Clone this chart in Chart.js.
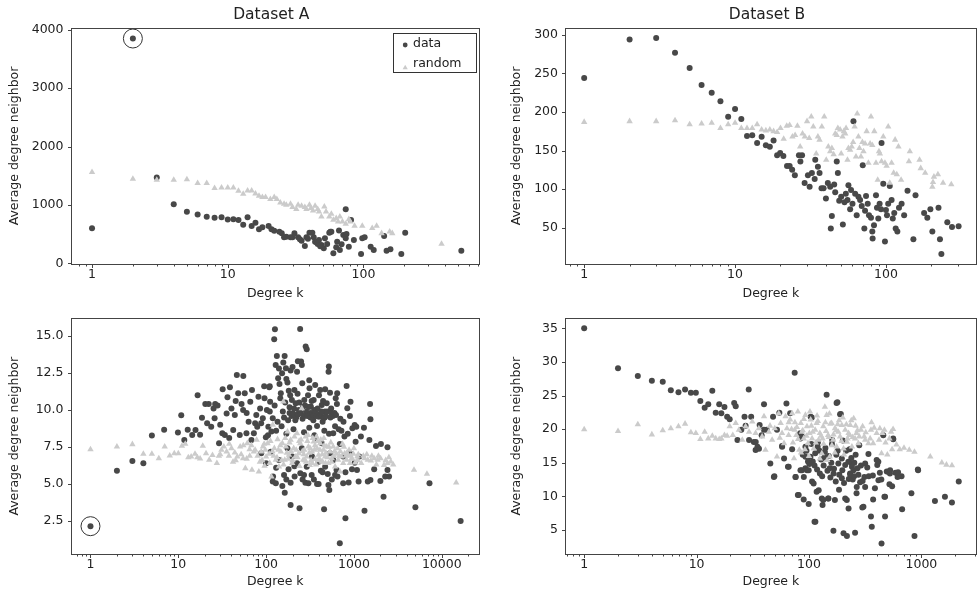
<!DOCTYPE html>
<html>
<head>
<meta charset="utf-8">
<script src="https://cdn.jsdelivr.net/npm/chart.js@4.4.1/dist/chart.umd.min.js"></script>
<style>
  html, body { margin: 0; padding: 0; background: #fff; overflow: hidden; }
  #wrap { position: relative; width: 980px; height: 594px; }
  canvas { position: absolute; }
</style>
</head>
<body>
<div id="wrap">
  <canvas id="cA" width="490" height="306" style="left:0px;top:0px"></canvas>
  <canvas id="cB" width="478" height="306" style="left:502px;top:0px"></canvas>
  <canvas id="cC" width="490" height="297" style="left:0px;top:297px"></canvas>
  <canvas id="cD" width="478" height="297" style="left:502px;top:297px"></canvas>
</div>
<script>
// [degree k, average degree neighbor]
const aData = [[1,600],[2,3850],[3,1470],[4,1010],[5,884],[6,835],[7,799],[8,782],[9,788],[10,752],[11,754],[12,742],[13,662],[14,788],[15,639],[16,696],[17,583],[18,617],[20,639],[21,583],[22,559],[24,542],[25,514],[26,446],[27,456],[29,446],[30,446],[31,514],[33,446],[34,411],[35,387],[37,297],[38,446],[39,420],[40,525],[42,525],[43,446],[44,370],[45,360],[46,331],[47,400],[48,290],[49,314],[51,257],[52,429],[54,331],[56,525],[57,540],[58,542],[60,171],[63,274],[64,370],[66,560],[67,228],[69,326],[71,485],[74,926],[74,429],[75,500],[78,285],[81,742],[85,400],[96,160],[98,429],[102,446],[113,285],[119,228],[142,468],[148,216],[158,240],[190,160],[203,525],[526,216]];
const aRandom = [[1,1560],[2,1445],[3,1428],[4,1428],[5,1435],[6,1371],[7,1371],[8,1286],[9,1296],[10,1296],[11,1296],[12,1239],[13,1188],[14,1244],[15,1244],[16,1193],[17,1154],[18,1131],[19,1131],[20.6,1097],[22,1131],[23,1097],[24.4,1039],[26,1016],[27,1000],[29,1016],[30,960],[32,926],[33,1000],[35,982],[37,960],[38,926],[40,1000],[41,943],[42.5,902],[44,982],[46,926],[47,884],[49,799],[51.5,970],[53,884],[56,799],[58,845],[60,742],[63,771],[65,713],[67,799],[70,713],[74,674],[78,754],[80,713],[86,639],[98,639],[116,600],[125,639],[136,514],[156,542],[163,514],[376,331]];
const aMarked = [[2,3850]];

const bData = [[1,244],[2,294],[3,296],[4,277],[5,257],[6,235],[7,225],[8,214],[9,194],[10,204],[11,191],[12,169],[13,170],[14,160],[15,168],[16,157],[17,155],[18,163],[19,144],[19.9,147],[20.9,143],[22.1,130],[23,130],[23.9,125],[24.9,118],[26.5,144],[27.8,144],[27.1,136],[28.9,108],[30.4,118],[31.2,103],[32.3,121],[33.7,113],[34,138],[35.4,129],[36.3,121],[37.4,101],[38.6,101],[40,88],[41.2,108],[42.7,103],[43.8,65],[43.1,49],[45.4,106],[46.1,96],[47.2,136],[48,121],[49,85],[50.5,90],[51.8,54],[53.1,83],[54.2,94],[55.6,86],[56.4,105],[57.9,74],[58.7,99],[60.9,188],[60,81],[62.5,94],[64,66],[65.7,90],[67.4,86],[69.1,78],[70.2,131],[71.9,49],[72.7,72],[73.8,91],[75.7,81],[77.2,66],[79.6,63],[81.2,45],[81.6,36],[83.3,53],[85.9,92],[87.2,76],[89,62],[90.8,81],[92.7,74],[93.5,160],[96,107],[98.5,32],[100,73],[101.6,66],[103.5,81],[106,104],[109,86],[111,62],[113.5,69],[116,49],[119,45],[122,76],[127,81],[132,66],[139,98],[152,35],[157,92],[179,69],[188,63],[197,74],[203,45],[223,76],[228,35],[233,16],[255,57],[274,51],[303,52]];
const bRandom = [[1,187],[2,188],[3,188],[4,189],[5,184],[6,185],[7,186],[8,179],[9,184],[10,186],[11,179],[12,179],[13,179],[14,184],[15,177],[16,176],[17,177],[18,175],[19,174],[20,179],[21,165],[22,182],[23,183],[24,168],[25,170],[25.9,182],[27,155],[28,172],[29,168],[30,188],[31,166],[32,194],[33,181],[34.5,146],[35.4,168],[36.3,164],[37.6,181],[39,194],[40.2,138],[41.5,155],[42.7,149],[43.8,153],[45,145],[46.1,172],[47.2,170],[48,179],[49.7,177],[50.5,146],[51.5,168],[52.6,175],[53.7,172],[54.4,179],[55.6,138],[56.4,153],[57.9,151],[59.3,155],[60.6,161],[62,181],[63.3,142],[64.5,198],[65.7,168],[66.7,153],[68.3,142],[69.8,161],[71,149],[72.7,159],[74.5,175],[76.5,134],[78.5,159],[79.6,194],[81.2,157],[83.7,175],[85.9,134],[88.2,112],[89.9,149],[91.2,146],[93.5,136],[96,168],[98.5,134],[101,130],[103.5,181],[106,108],[109,134],[112.5,121],[115,164],[118,119],[121,155],[126,112],[142,136],[144,149],[167,138],[170,127],[182,121],[203,103],[205,109],[208,116],[221,119],[239,108],[271,106]];

const cData = [[1,2.15],[2,5.9],[3,6.55],[4,6.4],[5,8.27],[6.9,8.67],[9.9,8.47],[10.8,9.64],[11.7,7.97],[12.8,8.67],[14.4,8.31],[15.7,8.65],[16.6,11.0],[17.7,8.33],[18.6,9.48],[20.3,10.4],[21.3,9.1],[22.2,10.4],[23.7,8.87],[25.2,10.1],[25.9,9.44],[26.3,10.4],[28,10.3],[29.1,7.75],[30,9.0],[31.7,8.42],[32,11.4],[33.9,8.31],[35.5,9.77],[36.3,10.86],[38,8.1],[38.7,11.53],[40.3,10.1],[42.2,8.65],[44,9.66],[45,10.6],[46.4,12.36],[48.1,11.13],[50.1,8.31],[52.5,10.4],[54.7,10.0],[55,12.3],[57.1,11.13],[59.7,8.42],[60,9.8],[63.2,9.21],[66,10.56],[68,7.97],[69,11.35],[72.5,8.42],[75,9.1],[77.3,9.66],[79.2,8.87],[81.8,10.9],[85.4,10.1],[87.8,9.1],[88,7.07],[91.7,9.44],[95,11.6],[95.9,10.79],[99.3,8.15],[100,6.4],[102,9.99],[105,8.3],[106,8.87],[108.5,11.53],[110,9.9],[110,11.6],[111,10.56],[113,7.18],[115,8.54],[119,9.44],[119,5.16],[120,5.5],[123.6,14.78],[125,10.3],[126,15.45],[128.5,13.04],[129,5.05],[130,8.6],[130,6.1],[132.5,13.65],[135,9.2],[137,12.14],[140,6.62],[140,12.8],[142,11.76],[145,10.8],[147,11.13],[150,8.9],[152,12.48],[153,4.86],[155,9.9],[157,13.2],[160,9.5],[160,5.6],[162.5,13.65],[163,4.41],[165,10.5],[168,12.82],[170,8.4],[170,5.3],[170,12.1],[175,11.85],[175,7.41],[178,9.3],[180,6.0],[181,11.3],[185,10.18],[185,9.8],[188,11.0],[190,12.66],[190,5.08],[190,3.58],[195,9.6],[196.5,10.68],[198,6.85],[200,12.9],[203,9.77],[205,8.7],[208,10.1],[210,11.35],[210,6.2],[211,5.5],[215,9.3],[217,10.45],[220,9.5],[225,12.59],[225,6.4],[228,11.1],[230,9.7],[230,13.3],[235,9.99],[238,10.5],[240,3.36],[244,15.47],[245,5.72],[248,9.8],[250,13.27],[255,13.04],[255,7.41],[258,11.8],[260,9.4],[260,5.3],[264,10.23],[268,9.6],[270,8.5],[270,5.6],[272,10.68],[278,10.3],[280,5.09],[282,14.28],[285,9.9],[290,14.1],[290,6.17],[295,9.6],[300,11.0],[303,5.05],[305,10.2],[310,8.8],[310,12.0],[312,11.46],[318,9.8],[320,9.5],[323,10.23],[330,5.6],[330,10.6],[333,6.85],[335,9.77],[342,9.6],[345,9.3],[348,10.68],[350,5.3],[352,10.0],[355,8.3],[362,11.69],[362,8.09],[368,9.8],[375,9.6],[380,8.92],[380,5.0],[385,10.1],[396,5.0],[396,6.51],[398,9.55],[400,11.0],[405,9.7],[413,11.35],[420,9.7],[420,5.9],[425,9.9],[430,10.34],[430,7.75],[440,9.2],[440,5.8],[445,10.6],[450,9.44],[457,3.29],[460,8.6],[465,9.5],[470,9.89],[470,6.17],[470,11.4],[480,9.6],[490,10.45],[500,9.9],[503,5.68],[512,4.93],[514,12.59],[518,12.93],[520,8.4],[524,4.59],[534,11.17],[534,7.07],[540,9.5],[550,10.1],[560,9.77],[560,5.3],[575,9.6],[581,8.42],[581,6.62],[600,9.8],[610,8.9],[610,5.6],[620,10.8],[625,9.66],[634,5.95],[640,10.4],[645,11.13],[650,5.5],[670,8.69],[690,7.7],[690,0.99],[700,9.4],[720,8.6],[754,5.05],[754,6.85],[760,9.2],[780,8.2],[800,2.68],[800,5.8],[825,11.62],[840,10.11],[850,8.4],[870,5.1],[900,7.07],[900,9.6],[914,10.56],[950,6.0],[960,8.76],[1019,8.99],[1019,6.44],[1045,7.86],[1064,8.87],[1083,5.95],[1130,5.16],[1150,6.85],[1200,8.2],[1300,8.8],[1319,3.2],[1438,5.16],[1500,7.97],[1527,10.4],[1541,9.37],[1541,5.27],[1700,6.0],[1783,7.57],[2000,5.2],[2028,7.7],[2173,4.14],[2270,5.5],[2410,7.48],[2410,5.95],[2512,5.5],[5010,3.42],[7250,5.05],[16400,2.5]];
const cRandom = [[1,7.34],[2,7.52],[3,7.68],[4,7.03],[5,7.03],[6,6.73],[7,7.52],[8,6.91],[9,7.07],[10,7.07],[11,7.57],[12,7.7],[13,6.8],[14,6.85],[15.5,7.03],[16.5,6.8],[17.7,6.71],[19,7.57],[20.7,7.07],[22.5,6.62],[24.5,6.94],[27.5,6.4],[29,6.89],[30,7.0],[31,7.3],[33,7.52],[35.5,7.18],[37.7,6.89],[38,7.7],[40.3,7.41],[42,6.5],[44,7.12],[45,6.6],[47,6.85],[50.6,7.52],[52,7.0],[54.7,6.73],[55,7.6],[58,6.06],[60,6.7],[61,7.75],[64.8,7.34],[65,6.9],[68,7.6],[69,5.95],[72.5,7.18],[75,7.3],[78,7.97],[80,6.9],[82.6,5.83],[85,6.5],[88,7.18],[90,6.6],[92,7.52],[95,7.7],[96,6.22],[98,7.3],[100,6.85],[104,7.75],[108.5,7.03],[110,6.4],[112,7.9],[115,5.5],[118,7.2],[119,9.0],[122,6.9],[124,7.41],[129,6.62],[133,6.8],[135,8.02],[138,7.3],[140,6.17],[145,7.6],[147,7.18],[150,6.6],[153,7.75],[157,10.56],[158,6.3],[163,6.62],[165,8.1],[168,7.52],[172,7.1],[175,8.54],[178,6.7],[182,6.96],[185,7.8],[190,7.97],[192,7.2],[198,6.4],[200,6.6],[206,7.41],[210,8.2],[215,6.85],[220,7.3],[225,8.42],[228,6.8],[235,7.07],[238,7.9],[240,6.2],[245,7.75],[250,8.0],[255,10.1],[258,7.2],[264,6.62],[268,7.0],[272,7.3],[275,6.6],[282,8.2],[285,6.5],[290,6.85],[295,7.9],[300,8.3],[303,7.52],[310,7.1],[315,6.28],[318,7.4],[325,6.6],[333,7.18],[335,6.4],[340,8.1],[348,7.86],[355,7.3],[360,7.6],[362,6.67],[370,6.3],[375,8.2],[380,7.41],[385,7.9],[392,6.6],[396,6.96],[405,6.7],[410,7.3],[413,7.75],[420,8.0],[430,6.51],[435,7.0],[440,6.5],[450,7.3],[455,8.1],[460,7.6],[470,6.85],[475,6.4],[480,7.1],[490,7.52],[500,6.8],[512,6.4],[520,7.5],[534,7.18],[545,7.8],[555,6.5],[560,6.73],[581,7.52],[590,6.9],[600,7.2],[610,6.17],[634,7.03],[650,7.4],[660,6.62],[680,6.9],[692,5.83],[700,7.2],[720,6.85],[740,7.7],[754,6.4],[770,7.5],[785,7.07],[810,6.9],[825,6.62],[830,7.1],[860,6.96],[880,7.3],[900,6.4],[920,6.9],[940,6.73],[950,6.7],[985,7.03],[1000,7.4],[1035,6.44],[1090,6.85],[1100,6.6],[1120,7.0],[1211,6.4],[1280,6.9],[1319,6.73],[1400,7.0],[1438,6.62],[1560,6.58],[1600,6.9],[1700,6.73],[1800,6.3],[1860,6.62],[1900,6.9],[2010,6.73],[2200,6.28],[2300,6.6],[2410,6.4],[2500,6.8],[2630,6.51],[2800,6.3],[4830,5.95],[6780,5.68],[14600,5.09]];
const cMarked = [[1,2.15]];

const dData = [[1,35],[2,29.05],[3,27.9],[4,27.2],[5,27.06],[5.9,25.8],[6.9,25.5],[7.9,25.9],[8.9,25.4],[9.85,25.4],[10.8,24.2],[11.8,23.2],[12.7,23.7],[13.8,25.7],[14.8,22.45],[15.9,23.7],[16.6,22.35],[17.7,23.3],[18.7,21.86],[19.7,21.46],[21.6,23.9],[22.3,23.4],[23.1,18.4],[25,19.9],[26.7,21.86],[27.3,20.5],[29.1,25.9],[29.3,18.4],[30.6,21.86],[32.3,18.1],[33.5,16.9],[33.6,18.1],[34.8,17.4],[35.9,17.1],[36.4,20.6],[37.9,19.1],[39.7,19.9],[39.8,23.7],[42,19.9],[45.3,14.9],[47.9,21.86],[48.7,12.9],[49.2,13.0],[51.9,19.9],[54.5,22.45],[57.6,17.5],[57.7,17.4],[60,15.65],[63,23.8],[65,14.4],[66,14.4],[68,22.35],[70.8,17.0],[74.6,28.4],[75.8,12.9],[76.2,12.9],[79.6,10.2],[81,10.2],[83.5,19.4],[84,18.6],[84,13.9],[86.5,18.9],[86.7,13.9],[88,16.2],[89.7,9.55],[90,12.9],[93,15.9],[93,17.4],[93,14.2],[95,16.8],[96,13.9],[98,15.2],[99.4,8.86],[99.4,13.9],[100.8,14.8],[103,15.9],[103.5,21.86],[105,17.8],[106,21.75],[106.5,12.2],[108,15.2],[110,11.9],[112,6.23],[112,14.6],[113.6,16.4],[114,6.22],[117,10.7],[118,14.0],[119.5,17.4],[120,18.0],[122,10.9],[124,16.8],[125,13.4],[128,15.5],[130,9.7],[131,13.0],[132,8.71],[134,9.45],[135,14.6],[137,15.8],[138.5,16.6],[140,17.2],[143.5,25.1],[146,13.8],[148,9.7],[149,9.7],[150,16.0],[153,14.2],[155,12.8],[158,15.0],[160,17.8],[161,18.4],[165,4.89],[165.5,13.4],[167,14.1],[170,9.45],[173,12.2],[175,16.2],[176,23.9],[179,24.0],[180,16.8],[182.5,14.9],[185,11.0],[186,13.2],[189,22.2],[192,22.25],[196,12.7],[196,15.65],[198,13.9],[200,18.3],[203,4.5],[205,12.0],[210,9.7],[210,14.66],[214,16.8],[217,9.45],[217.5,4.1],[224,15.15],[225,8.2],[226,12.6],[230,17.0],[232,13.4],[233,13.2],[238,15.7],[240,14.9],[241,14.4],[245,12.5],[249,13.9],[252,13.0],[253,15.0],[257,4.6],[260,16.2],[265,10.45],[266,11.4],[270,14.2],[275,13.2],[280,17.6],[285,12.1],[290,14.6],[298,8.36],[300,12.3],[305,8.45],[311,12.9],[316,11.4],[316,14.9],[330,14.3],[338,16.3],[340,13.0],[356,7.0],[362,5.5],[370,13.1],[372,9.55],[386,11.2],[400,15.4],[405,14.66],[414,15.15],[415,12.4],[427,13.5],[440,12.5],[442,3.0],[458,19.1],[469,9.95],[475,7.0],[475,9.94],[492,13.7],[507,13.66],[520,11.8],[525,13.4],[527,13.9],[549,11.5],[561,18.6],[562,18.5],[588,13.5],[614,12.9],[620,13.6],[666,13.0],[674,8.07],[815,10.45],[868,4.1],[930,14.0],[935,13.9],[1320,9.3],[1620,9.95],[1870,9.1],[2150,12.2]];
const dRandom = [[1,19.97],[2,19.7],[3,20.7],[4,19.2],[5,19.8],[5.9,20.1],[6.9,20.4],[7.9,20.8],[8.9,19.5],[9.85,19.4],[10.8,18.5],[11.8,19.6],[12.7,18.6],[13.8,19.0],[14.8,18.6],[15.9,18.5],[16.6,18.6],[17.7,19.1],[18.7,19.0],[19.7,20.4],[21,19.1],[22.3,20.9],[23.8,19.9],[25.5,18.4],[27.3,20.4],[29.3,19.6],[31.3,21.1],[33.5,19.4],[35.8,20.1],[38.3,18.9],[39.8,21.9],[41,16.9],[43.9,19.6],[45,20.5],[47,18.4],[49.6,20.1],[51.9,15.9],[53.8,22.35],[55,18.7],[56,20.9],[57.6,19.4],[60,17.9],[61.9,21.9],[63.7,20.1],[65.9,19.1],[66,21.0],[68,21.4],[70,20.0],[70.8,22.35],[72,18.0],[73.6,15.65],[74.6,19.9],[75,21.0],[77.2,19.1],[78,20.3],[79.6,22.6],[80,18.5],[82,16.9],[84.6,20.9],[85,16.5],[86.5,19.6],[88,19.8],[89.7,18.6],[90,21.5],[92,17.0],[93,22.1],[95,19.0],[96,20.4],[98,17.9],[100,16.0],[100.8,19.4],[102,22.6],[103.5,21.4],[105,20.5],[106.5,18.6],[108,19.6],[110,17.1],[113.6,19.9],[115,18.0],[117,20.9],[118,22.0],[120,21.2],[121.5,18.4],[125,19.4],[125,15.6],[128,19.0],[130,16.4],[132,18.6],[134,20.4],[135,17.8],[138.5,23.3],[140,21.0],[142,19.7],[143.5,22.1],[145,15.4],[148,19.1],[150,18.8],[152,22.3],[153,15.9],[155,20.8],[159,20.9],[160,17.6],[164,18.4],[165,19.2],[170,20.1],[170,16.5],[175,19.8],[176,17.4],[180,20.7],[182.5,19.6],[185,21.3],[189,18.9],[195,18.2],[196,20.6],[200,21.7],[203,17.1],[205,16.2],[210,19.9],[215,20.7],[217.5,18.1],[220,18.6],[225,19.4],[230,19.1],[233,20.6],[238,21.3],[241,17.4],[245,18.8],[250,21.6],[257,18.6],[260,20.5],[265,19.4],[270,19.8],[275,17.9],[280,18.9],[290,19.9],[300,20.4],[310,18.9],[316,18.4],[320,19.5],[338,17.9],[350,18.6],[356,19.9],[360,21.0],[372,17.9],[380,20.2],[400,19.4],[420,18.4],[427,20.1],[442,16.4],[450,19.4],[469,19.9],[480,18.0],[498,16.2],[520,18.6],[538,19.6],[549,17.0],[560,20.0],[600,17.7],[642,17.0],[700,17.2],[780,16.9],[868,16.6],[1200,15.9],[1520,15.0],[1670,14.7],[1870,14.6]];

const xMajorTop = [1, 10, 100];
const xMajorC = [1, 10, 100, 1000, 10000];
const xMajorD = [1, 10, 100, 1000];
const yTicksA = [0, 1000, 2000, 3000, 4000];
const yTicksB = [50, 100, 150, 200, 250, 300];
const yTicksC = [2.5, 5, 7.5, 10, 12.5, 15];
const yTicksD = [5, 10, 15, 20, 25, 30, 35];

const DARK = '#484848';
const LIGHT = '#cbcbcb';
const INK = '#222';
const FONT = { family: 'DejaVu Sans', size: 12.5 };

function logTicks(min, max) {
  const out = [];
  for (let d = Math.floor(Math.log10(min)); d <= Math.ceil(Math.log10(max)); d++) {
    for (let m = 1; m <= 9; m++) {
      const v = m * Math.pow(10, d);
      if (v >= min && v <= max) out.push(v);
    }
  }
  return out;
}

const toPts = arr => arr.map(p => ({ x: p[0], y: p[1] }));

function panelPlugin(p) {
  return {
    id: 'panelDecor',
    afterDatasetsDraw(chart) {
      const { ctx, chartArea: ca, scales: { x, y } } = chart;
      ctx.save();
      ctx.strokeStyle = '#444';
      ctx.lineWidth = 1;
      const l = Math.floor(ca.left) + 0.5, t = Math.floor(ca.top) + 0.5;
      const r = Math.floor(ca.right) + 0.5, b = Math.floor(ca.bottom) + 0.5;
      ctx.strokeRect(l, t, r - l, b - t);
      ctx.beginPath();
      x.ticks.forEach(tk => {
        const px = Math.round(x.getPixelForValue(tk.value)) + 0.5;
        const len = p.xMajor.includes(tk.value) ? 3.5 : 2;
        ctx.moveTo(px, b); ctx.lineTo(px, b + len);
      });
      y.ticks.forEach(tk => {
        const py = Math.round(y.getPixelForValue(tk.value)) + 0.5;
        ctx.moveTo(l, py); ctx.lineTo(l - 3.5, py);
      });
      ctx.stroke();

      if (p.title) {
        ctx.fillStyle = INK;
        ctx.font = '15.5px "DejaVu Sans"';
        ctx.textAlign = 'center';
        ctx.textBaseline = 'middle';
        ctx.fillText(p.title, (ca.left + ca.right) / 2 - 4, 15);
      }

      if (p.legend) {
        const bx = ca.right - 87, by = ca.top + 5.3, bw = 82.7, bh = 39.4;
        ctx.fillStyle = '#fff';
        ctx.fillRect(bx, by, bw, bh);
        ctx.strokeStyle = '#333';
        ctx.strokeRect(Math.round(bx) + 0.5, Math.round(by) + 0.5, Math.round(bw), Math.round(bh));
        ctx.fillStyle = DARK;
        ctx.beginPath();
        ctx.arc(bx + 12.7, by + 11.7, 2.4, 0, Math.PI * 2);
        ctx.fill();
        ctx.fillStyle = LIGHT;
        const tx = bx + 12.7, ty = by + 34.4, tr = 3;
        ctx.beginPath();
        ctx.moveTo(tx, ty - tr);
        ctx.lineTo(tx + tr * 0.866, ty + tr * 0.5);
        ctx.lineTo(tx - tr * 0.866, ty + tr * 0.5);
        ctx.closePath();
        ctx.fill();
        ctx.fillStyle = INK;
        ctx.font = '12.5px "DejaVu Sans"';
        ctx.textAlign = 'left';
        ctx.textBaseline = 'middle';
        ctx.fillText('data', bx + 20.5, by + 10);
        ctx.fillText('random', bx + 20.5, by + 30.5);
      }
      ctx.restore();
    }
  };
}

function makePanel(p) {
  const datasets = [
    { label: 'data', data: toPts(p.data), pointStyle: 'circle', pointRadius: 3, pointHoverRadius: 3,
      backgroundColor: DARK, borderWidth: 0, order: 2 },
    { label: 'random', data: toPts(p.rand), pointStyle: 'triangle', pointRadius: 3.7, pointHoverRadius: 3.7,
      backgroundColor: LIGHT, borderWidth: 0, order: 1 }
  ];
  if (p.marked) {
    datasets.push({ label: 'marked', data: toPts(p.marked), pointStyle: 'circle', pointRadius: 9.5,
      pointHoverRadius: 9.5, backgroundColor: 'rgba(0,0,0,0)', borderColor: '#333', borderWidth: 1, order: 0 });
  }
  new Chart(document.getElementById(p.id), {
    type: 'scatter',
    data: { datasets },
    options: {
      responsive: false,
      animation: false,
      events: [],
      layout: { padding: p.padding },
      plugins: { legend: { display: false }, title: { display: false }, tooltip: { enabled: false } },
      scales: {
        x: {
          type: 'logarithmic',
          min: p.xMin, max: p.xMax,
          afterBuildTicks: s => { s.ticks = logTicks(p.xMin, p.xMax).map(v => ({ value: v })); },
          afterFit: s => { s.height = p.xH; },
          grid: { display: false, drawTicks: false },
          border: { display: false },
          ticks: {
            autoSkip: false, maxRotation: 0, minRotation: 0, padding: 3, color: INK, font: FONT,
            callback: v => p.xMajor.includes(v) ? String(v) : ''
          },
          title: { display: true, text: 'Degree k', color: INK, font: FONT, padding: { top: 0, bottom: 4.5 } }
        },
        y: {
          type: 'linear',
          min: p.yMin, max: p.yMax,
          afterBuildTicks: s => { s.ticks = p.yTicks.map(v => ({ value: v })); },
          afterFit: s => { s.width = p.yW; },
          grid: { display: false, drawTicks: false },
          border: { display: false },
          ticks: { padding: 7.5, color: INK, font: FONT, callback: p.yFmt },
          title: { display: true, text: 'Average degree neighbor', color: INK, font: FONT, padding: { top: 7.5, bottom: 0 } }
        }
      }
    },
    plugins: [panelPlugin(p)]
  });
}

makePanel({ id: 'cA', data: aData, rand: aRandom, marked: aMarked, title: 'Dataset A', legend: true,
  xMin: 0.729, xMax: 716, yMin: -12, yMax: 4030, xMajor: xMajorTop, yTicks: yTicksA, yFmt: v => String(v),
  padding: { left: 0, right: 5, top: 28, bottom: 0 }, yW: 71, xH: 42 });
makePanel({ id: 'cB', data: bData, rand: bRandom, title: 'Dataset B',
  xMin: 0.752, xMax: 397, yMin: 2.9, yMax: 309, xMajor: xMajorTop, yTicks: yTicksB, yFmt: v => String(v),
  padding: { left: 0, right: 1.5, top: 28, bottom: 0 }, yW: 63.5, xH: 42 });
makePanel({ id: 'cC', data: cData, rand: cRandom, marked: cMarked,
  xMin: 0.612, xMax: 26900, yMin: 0.27, yMax: 16.18, xMajor: xMajorC, yTicks: yTicksC, yFmt: v => v.toFixed(1),
  padding: { left: 0, right: 5, top: 21.5, bottom: 0 }, yW: 71, xH: 40 });
makePanel({ id: 'cD', data: dData, rand: dRandom,
  xMin: 0.682, xMax: 3080, yMin: 1.43, yMax: 36.46, xMajor: xMajorD, yTicks: yTicksD, yFmt: v => String(v),
  padding: { left: 0, right: 1.5, top: 21.5, bottom: 0 }, yW: 63.5, xH: 40 });
</script>
</body>
</html>
